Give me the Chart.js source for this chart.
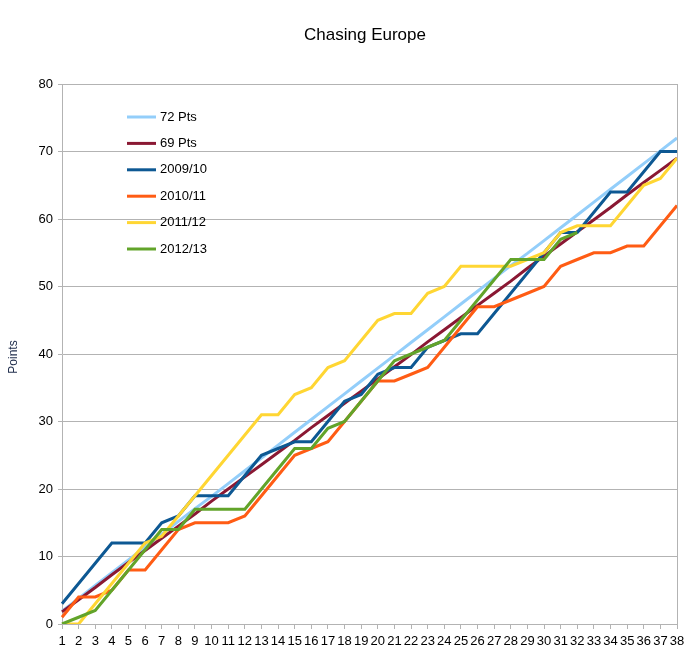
<!DOCTYPE html>
<html>
<head>
<meta charset="utf-8">
<title>Chasing Europe</title>
<script src="https://cdn.jsdelivr.net/npm/chart.js@4/dist/chart.umd.min.js"></script>
<style>
  body { margin: 0; background: #fff; }
  #wrap { width: 691px; height: 659px; }
</style>
</head>
<body>
<div id="wrap"><canvas id="chart" width="691" height="659"></canvas></div>
<script>
// game weeks
const rounds = ['1','2','3','4','5','6','7','8','9','10','11','12','13','14','15','16','17','18','19',
  '20','21','22','23','24','25','26','27','28','29','30','31','32','33','34','35','36','37','38'];

// target pace lines
const pace72 = [1.9, 3.8, 5.7, 7.6, 9.5, 11.4, 13.3, 15.2, 17.1, 18.9, 20.8, 22.7, 24.6, 26.5, 28.4, 30.3, 32.2, 34.1, 36,
  37.9, 39.8, 41.7, 43.6, 45.5, 47.4, 49.3, 51.2, 53.1, 54.9, 56.8, 58.7, 60.6, 62.5, 64.4, 66.3, 68.2, 70.1, 72];
const pace69 = [1.8, 3.6, 5.4, 7.3, 9.1, 10.9, 12.7, 14.5, 16.3, 18.2, 20, 21.8, 23.6, 25.4, 27.2, 29.1, 30.9, 32.7, 34.5,
  36.3, 38.1, 39.9, 41.8, 43.6, 45.4, 47.2, 49, 50.8, 52.7, 54.5, 56.3, 58.1, 59.9, 61.7, 63.6, 65.4, 67.2, 69];

// seasons
const s0910 = [3, 6, 9, 12, 12, 12, 15, 16, 19, 19, 19, 22, 25, 26, 27, 27, 30, 33, 34,
  37, 38, 38, 41, 42, 43, 43, 46, 49, 52, 55, 58, 58, 61, 64, 64, 67, 70, 70];
const s1011 = [1, 4, 4, 5, 8, 8, 11, 14, 15, 15, 15, 16, 19, 22, 25, 26, 27, 30, 33,
  36, 36, 37, 38, 41, 44, 47, 47, 48, 49, 50, 53, 54, 55, 55, 56, 56, 59, 62];
const s1112 = [0, 0, 3, 6, 9, 12, 13, 16, 19, 22, 25, 28, 31, 31, 34, 35, 38, 39, 42,
  45, 46, 46, 49, 50, 53, 53, 53, 53, 54, 55, 58, 59, 59, 59, 62, 65, 66, 69];
const s1213 = [0, 1, 2, 5, 8, 11, 14, 14, 17, 17, 17, 17, 20, 23, 26, 26, 29, 30, 33,
  36, 39, 40, 41, 42, 45, 48, 51, 54, 54, 54, 57, 58, null, null, null, null, null, null];

const yTicks = [0, 10, 20, 30, 40, 50, 60, 70, 80];

const FONT = '"Liberation Sans", Arial, sans-serif';
const GRID = '#b3b3b3';

function line(label, data, color, order) {
  return {
    label: label, data: data, borderColor: color, backgroundColor: color,
    borderWidth: 3, pointRadius: 0, tension: 0, fill: false, order: order,
    borderJoinStyle: 'miter', borderCapStyle: 'butt'
  };
}

// title, axis name, inside legend, right frame
const extras = {
  id: 'extras',
  afterDraw(chart) {
    const ctx = chart.ctx;
    const area = chart.chartArea;
    ctx.save();

    ctx.strokeStyle = GRID;
    ctx.lineWidth = 1;
    ctx.beginPath();
    ctx.moveTo(Math.round(area.right) + 0.5, area.top);
    ctx.lineTo(Math.round(area.right) + 0.5, area.bottom);
    ctx.stroke();

    ctx.fillStyle = '#000';
    ctx.font = '17px ' + FONT;
    ctx.textAlign = 'center';
    ctx.textBaseline = 'middle';
    ctx.fillText('Chasing Europe', 365, 35);

    ctx.save();
    ctx.translate(14, 357);
    ctx.rotate(-Math.PI / 2);
    ctx.fillStyle = '#1d2b4a';
    ctx.font = '12px ' + FONT;
    ctx.fillText('Points', 0, 0);
    ctx.restore();

    ctx.font = '13px ' + FONT;
    ctx.textAlign = 'left';
    chart.data.datasets.forEach((ds, i) => {
      const y = 117 + i * 26.4;
      ctx.strokeStyle = ds.borderColor;
      ctx.lineWidth = 3;
      ctx.beginPath();
      ctx.moveTo(127, y);
      ctx.lineTo(156, y);
      ctx.stroke();
      ctx.fillStyle = '#000';
      ctx.fillText(ds.label, 160, y);
    });
    ctx.restore();
  }
};

new Chart(document.getElementById('chart'), {
  type: 'line',
  data: {
    labels: rounds,
    datasets: [
      line('72 Pts', pace72, '#93cefa', 6),
      line('69 Pts', pace69, '#8a1833', 5),
      line('2009/10', s0910, '#0d5893', 4),
      line('2010/11', s1011, '#ff5c14', 3),
      line('2011/12', s1112, '#ffd633', 2),
      line('2012/13', s1213, '#62a42a', 1)
    ]
  },
  options: {
    responsive: false,
    animation: false,
    layout: { padding: { top: 84, right: 14, left: 0, bottom: 0 } },
    plugins: {
      legend: { display: false },
      title: { display: false },
      tooltip: { enabled: false }
    },
    scales: {
      x: {
        offset: false,
        grid: { drawOnChartArea: false, color: GRID, tickLength: 5 },
        border: { color: GRID },
        ticks: { color: '#000', font: { family: FONT, size: 13 }, padding: 5, maxRotation: 0, autoSkip: false },
        afterFit(scale) { scale.height = 35; }
      },
      y: {
        min: 0,
        max: 80,
        afterBuildTicks(scale) { scale.ticks = yTicks.map(v => ({ value: v })); },
        grid: { color: GRID, tickLength: 4 },
        border: { color: GRID },
        ticks: { color: '#000', font: { family: FONT, size: 13 }, padding: 5 },
        afterFit(scale) { scale.width = 62; }
      }
    }
  },
  plugins: [extras]
});
</script>
</body>
</html>
